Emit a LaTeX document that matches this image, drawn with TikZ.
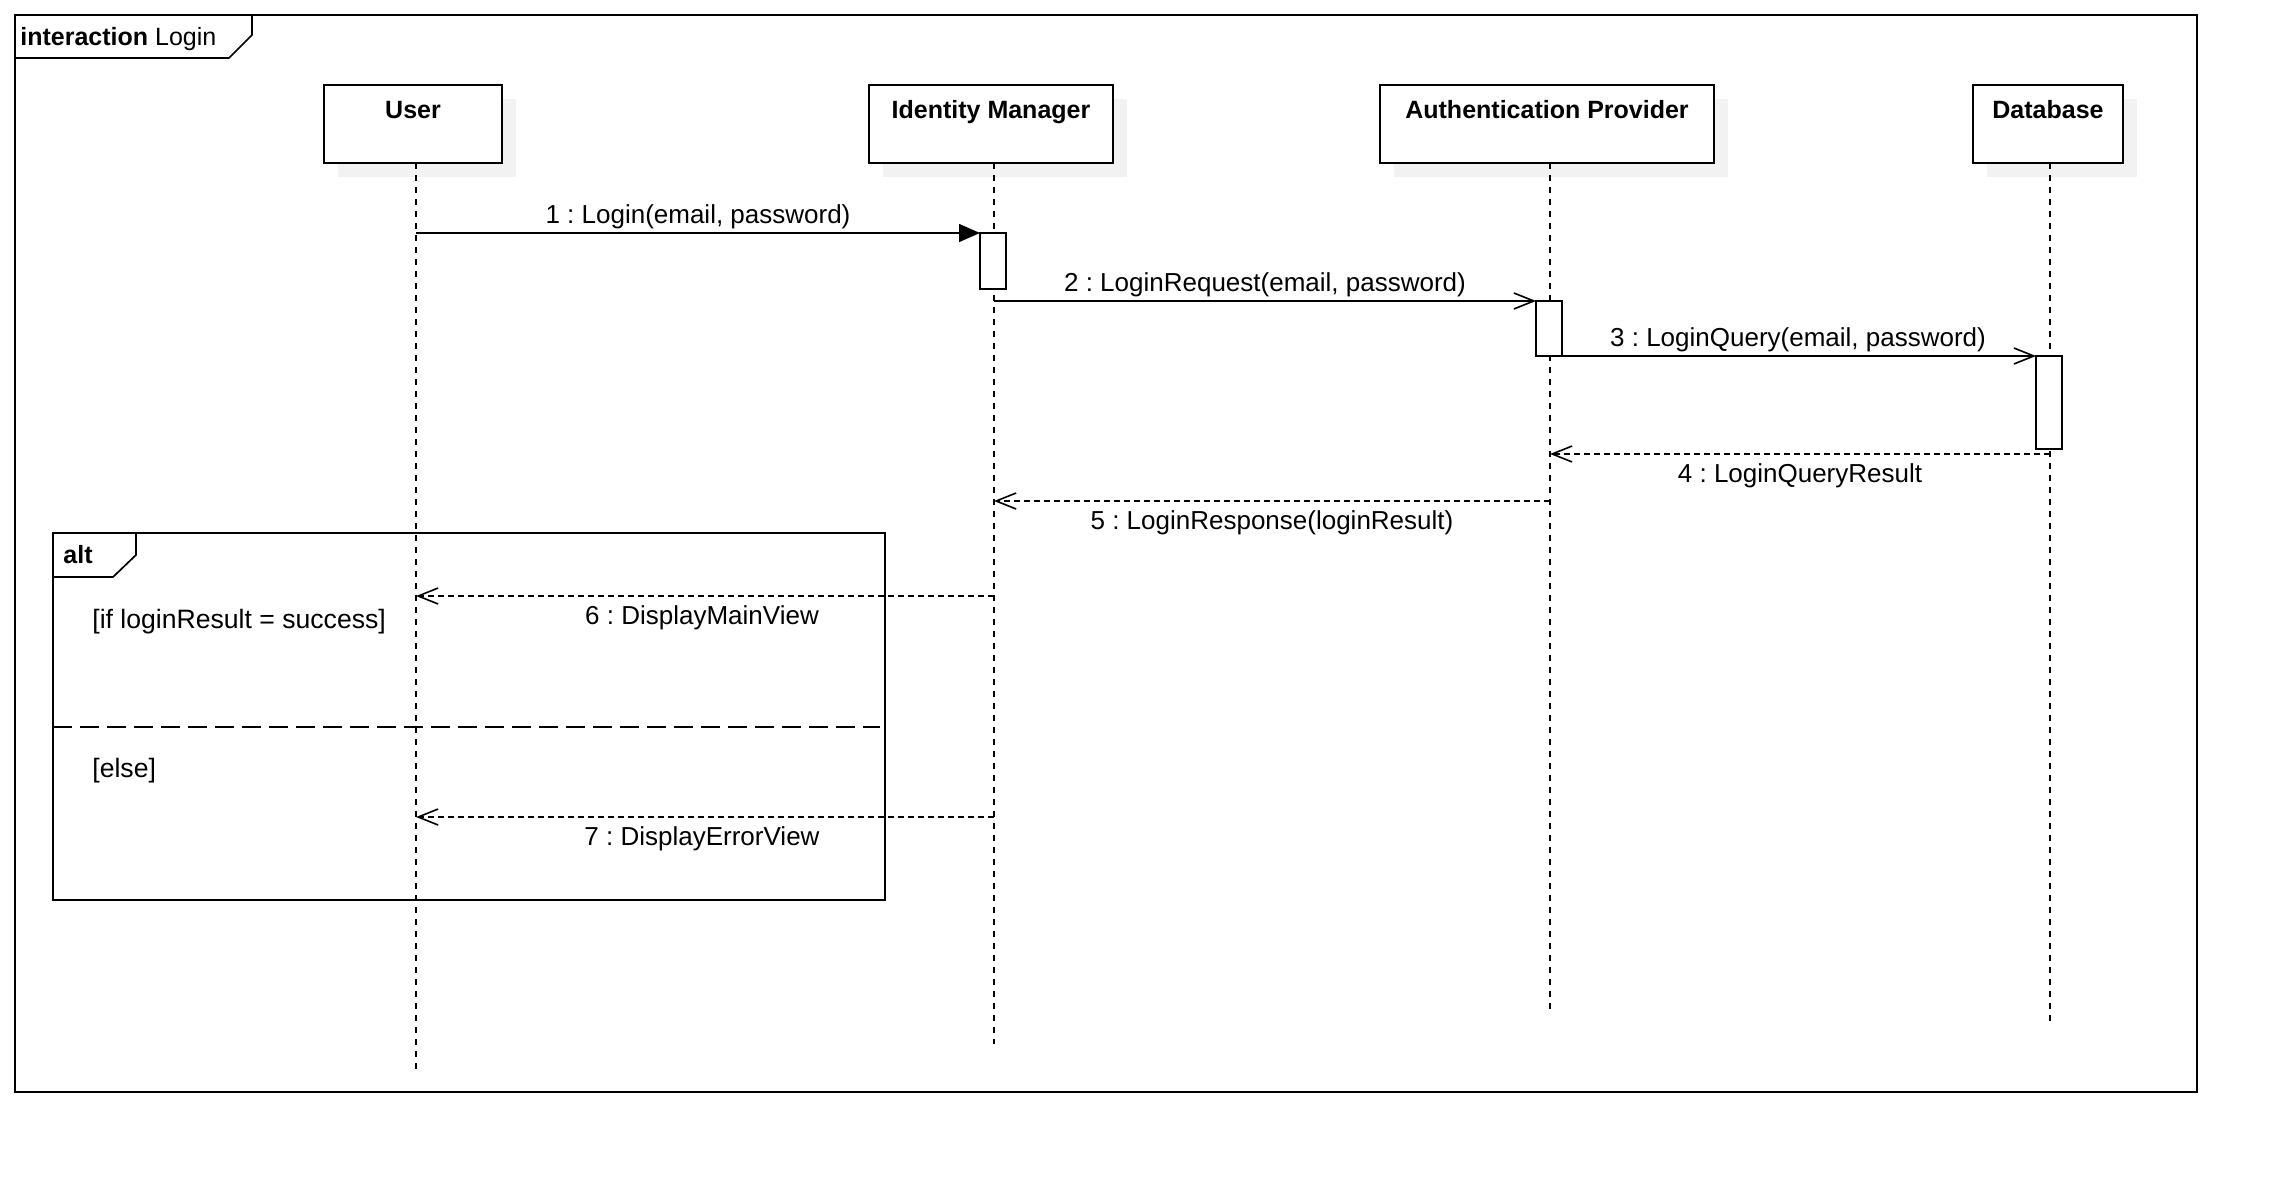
\documentclass[tikz,border=0pt]{standalone}
\usepackage{fontspec}
\setmainfont{Liberation Sans}
\usetikzlibrary{arrows.meta,shadows}
\frenchspacing
\begin{document}
\begin{tikzpicture}[x=0.5pt,y=-0.5pt,
  frameline/.style={line width=0.85pt},
  obj/.style={draw, line width=0.85pt, fill=white, inner sep=0pt, outer sep=0pt,
    drop shadow={shadow xshift=7pt, shadow yshift=-7pt, fill=black!5, opacity=1}},
  objlabel/.style={anchor=base, inner sep=0pt, font=\fontsize{12.5pt}{15pt}\selectfont\bfseries},
  act/.style={draw, line width=0.75pt, fill=white, inner sep=0pt, outer sep=0pt, minimum width=13pt},
  lifeline/.style={line width=0.65pt, dash pattern=on 3pt off 3pt},
  call/.style={line width=0.8pt, -{Triangle[length=10.5pt,width=9pt]}},
  async/.style={line width=0.8pt, -{Straight Barb[length=10pt,width=8pt]}},
  reply/.style={line width=0.8pt, dash pattern=on 3pt off 2pt, -{Straight Barb[length=10pt,width=8pt]}},
  msg/.style={anchor=base, inner sep=0pt, font=\fontsize{13pt}{15pt}\selectfont},
  guard/.style={anchor=base west, inner sep=0pt, font=\fontsize{13.3pt}{15pt}\selectfont},
]
\useasboundingbox (0,0) rectangle (2282,1178);

% outer interaction frame
\draw[frameline] (15,15) rectangle (2197,1092);
\draw[frameline] (15,58) -- (229,58) -- (252,35) -- (252,15);
\node[anchor=base west, inner sep=0pt, font=\fontsize{12.5pt}{15pt}\selectfont] (title) at (20,45) {\textbf{interaction} Login};

% lifeline heads
\node[obj, minimum width=89pt, minimum height=39pt] (user) at (413,124) {};
\node[obj, minimum width=122pt, minimum height=39pt] (idm) at (991,124) {};
\node[obj, minimum width=167pt, minimum height=39pt] (auth) at (1547,124) {};
\node[obj, minimum width=75pt, minimum height=39pt] (db) at (2048,124) {};
\node[objlabel] (userT) at (413,118) {User};
\node[objlabel] (idmT) at (991,118) {Identity Manager};
\node[objlabel] (authT) at (1547,118) {Authentication Provider};
\node[objlabel] (dbT) at (2048,118) {Database};

% lifelines
\coordinate (userEnd) at (416,1070);
\coordinate (idmEnd) at (994,1044);
\coordinate (authEnd) at (1550,1009);
\coordinate (dbEnd) at (2050,1022);
\draw[lifeline] (userEnd |- user.south) -- (userEnd);
\draw[lifeline] (idmEnd |- idm.south) -- (idmEnd);
\draw[lifeline] (authEnd |- auth.south) -- (authEnd);
\draw[lifeline] (dbEnd |- db.south) -- (dbEnd);

% activations
\node[act, minimum height=28pt] (actIM) at (993,261) {};
\node[act, minimum height=27.5pt] (actAP) at (1549,328.5) {};
\node[act, minimum height=46.5pt] (actDB) at (2049,402.5) {};

% messages
\coordinate (m1s) at (416,233);
\draw[call] (m1s) -- (actIM.north west);
\node[msg] (m1T) at (698,223) {1 : Login(email, password)};

\coordinate (m2s) at (994,301);
\draw[async] (m2s) -- (actAP.north west);
\node[msg] (m2T) at (1265,291) {2 : LoginRequest(email, password)};

\draw[async] (actAP.south east) -- (actDB.north west);
\node[msg] (m3T) at (1798,346) {3 : LoginQuery(email, password)};

\coordinate (m4s) at (2050,454);
\coordinate (m4e) at (1550,454);
\draw[reply] (m4s) -- (m4e);
\node[msg] (m4T) at (1800,482) {4 : LoginQueryResult};

\coordinate (m5s) at (1550,501);
\coordinate (m5e) at (994,501);
\draw[reply] (m5s) -- (m5e);
\node[msg] (m5T) at (1272,529) {5 : LoginResponse(loginResult)};

\coordinate (m6s) at (994,596);
\coordinate (m6e) at (416,596);
\draw[reply] (m6s) -- (m6e);
\node[msg] (m6T) at (702,624) {6 : DisplayMainView};

\coordinate (m7s) at (994,817);
\coordinate (m7e) at (416,817);
\draw[reply] (m7s) -- (m7e);
\node[msg] (m7T) at (702,845) {7 : DisplayErrorView};

% alt combined fragment
\draw[frameline] (53,533) rectangle (885,900);
\draw[frameline] (53,577) -- (113,577) -- (136,555) -- (136,533);
\node[anchor=base west, inner sep=0pt, font=\fontsize{12.5pt}{15pt}\selectfont\bfseries] (altT) at (63,563) {alt};
\draw[line width=0.75pt, dash pattern=on 9.5pt off 4pt] (53,727) -- (880,727);
\node[guard] (g1) at (92,628) {[if loginResult = success]};
\node[guard] (g2) at (92,777) {[else]};
\end{tikzpicture}
\end{document}
